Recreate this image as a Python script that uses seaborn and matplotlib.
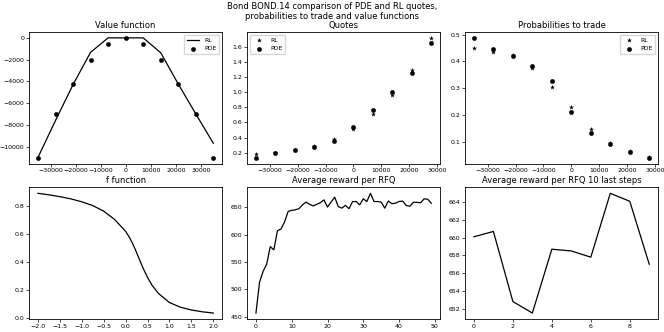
import numpy as np
import matplotlib
matplotlib.use("Agg")
import matplotlib.pyplot as plt
import seaborn as sns

# inventory grid
inv_value = [-35000, -28000, -21000, -14000, -7000, 0, 7000, 14000, 21000, 28000, 35000]
value_rl = [-11000, -7600, -4300, -1330, 0, 0, 0, -1370, -4250, -7000, -9700]
value_pde = [-11020, -7030, -4200, -2040, -610, 0, -610, -2040, -4200, -7030, -11020]

inv_quotes = [-35000, -28000, -21000, -14000, -7000, 0, 7000, 14000, 21000, 28000]
quotes_rl = [0.18, 0.20, 0.235, 0.285, 0.38, 0.51, 0.71, 0.97, 1.29, 1.72]
quotes_pde = [0.135, 0.195, 0.23, 0.28, 0.355, 0.54, 0.77, 1.00, 1.25, 1.655]

proba_rl = [0.451, 0.437, 0.426, 0.377, 0.306, 0.232, 0.149, 0.095, 0.066, 0.043]
proba_pde = [0.488, 0.446, 0.420, 0.383, 0.328, 0.211, 0.132, 0.091, 0.064, 0.042]

f_x = [-2.0, -1.75, -1.5, -1.25, -1.0, -0.75, -0.5, -0.25, 0.0, 0.1, 0.2,
       0.3, 0.4, 0.5, 0.6, 0.75, 1.0, 1.25, 1.5, 1.75, 2.0]
f_y = [0.893, 0.882, 0.869, 0.853, 0.832, 0.805, 0.765, 0.705, 0.62, 0.57, 0.505,
       0.43, 0.355, 0.29, 0.235, 0.175, 0.11, 0.077, 0.057, 0.044, 0.035]

avg_reward = [457, 513, 533, 546, 578, 572, 607, 610, 623, 642,
              644, 645, 647, 654, 659, 655, 652, 655, 658, 663,
              650, 659, 668, 651, 648, 653, 647, 660, 660, 654,
              665, 660, 675, 660, 660, 659, 648, 661, 656, 657,
              660.1, 660.7, 652.8, 651.5, 658.7, 658.5, 657.8, 665.0, 664.1, 657.0]
last_steps = avg_reward[-10:]

plt.rcParams.update({
    "font.family": ["DejaVu Sans"],
    "font.size": 5,
    "xtick.labelsize": 4.5,
    "ytick.labelsize": 4.5,
    "axes.titlesize": 6,
    "axes.linewidth": 0.6,
    "xtick.major.width": 0.5,
    "ytick.major.width": 0.5,
    "xtick.major.size": 2,
    "ytick.major.size": 2,
    "legend.fontsize": 5,
})

fig, axes = plt.subplots(2, 3, figsize=(6.64, 3.32), dpi=100)
fig.subplots_adjust(left=0.044, right=0.991, bottom=0.039, top=0.904,
                    wspace=0.13, hspace=0.18)

ax = axes[0, 0]
sns.lineplot(x=inv_value, y=value_rl, color="k", lw=0.9, ax=ax, label="RL")
sns.scatterplot(x=inv_value, y=value_pde, color="k", marker="o", s=10,
                edgecolor="k", ax=ax, label="PDE")
ax.set_title("Value function", pad=3)
ax.legend(loc="upper right", fontsize=4.5)

ax = axes[0, 1]
sns.scatterplot(x=inv_quotes, y=quotes_rl, color="k", marker="*", s=14,
                edgecolor="k", linewidth=0, ax=ax, label="RL")
sns.scatterplot(x=inv_quotes, y=quotes_pde, color="k", marker="o", s=10,
                edgecolor="k", ax=ax, label="PDE")
ax.set_title("Quotes", pad=3)
ax.legend(loc="upper left", fontsize=4.5)

ax = axes[0, 2]
sns.scatterplot(x=inv_quotes, y=proba_rl, color="k", marker="*", s=14,
                edgecolor="k", linewidth=0, ax=ax, label="RL")
sns.scatterplot(x=inv_quotes, y=proba_pde, color="k", marker="o", s=10,
                edgecolor="k", ax=ax, label="PDE")
ax.set_title("Probabilities to trade", pad=3)
ax.legend(loc="upper right", fontsize=4.5)

ax = axes[1, 0]
sns.lineplot(x=f_x, y=f_y, color="k", lw=0.9, ax=ax)
ax.set_title("f function", pad=3)

ax = axes[1, 1]
sns.lineplot(x=np.arange(len(avg_reward)), y=avg_reward, color="k", lw=0.9, ax=ax)
ax.set_title("Average reward per RFQ", pad=3)

ax = axes[1, 2]
sns.lineplot(x=np.arange(len(last_steps)), y=last_steps, color="k", lw=0.9, ax=ax)
ax.set_title("Average reward per RFQ 10 last steps", pad=3)

for ax in axes.flat:
    ax.tick_params(pad=1.5)

fig.suptitle("Bond BOND.14 comparison of PDE and RL quotes,\n"
             "probabilities to trade and value functions", fontsize=6, y=0.995)

fig.savefig("out.png", dpi=100)
